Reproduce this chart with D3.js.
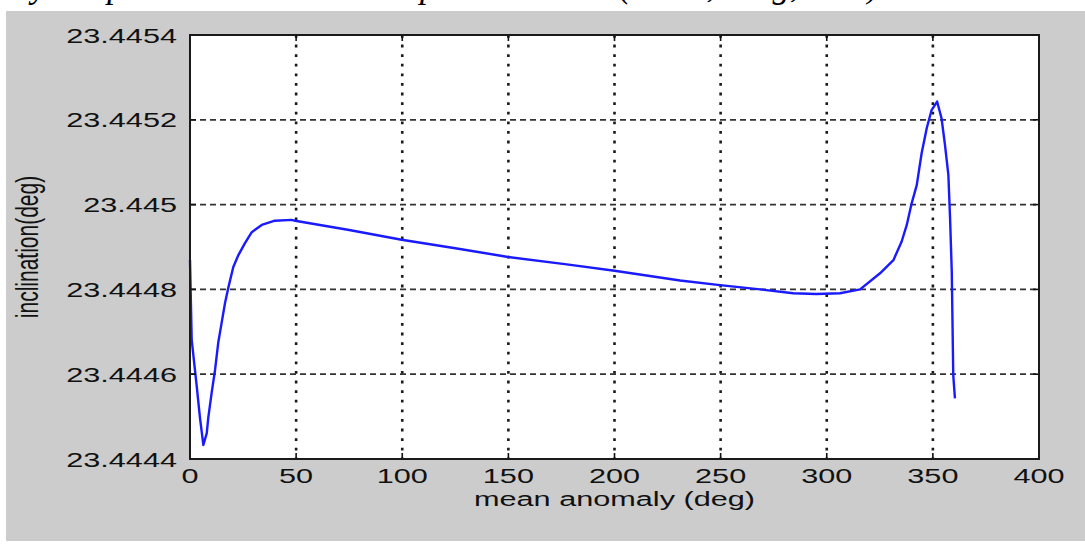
<!DOCTYPE html>
<html>
<head>
<meta charset="utf-8">
<script src="https://cdn.jsdelivr.net/npm/d3@7"></script>
<style>
  html, body { margin: 0; padding: 0; background: #fff; }
  svg { display: block; }
</style>
</head>
<body>
<svg id="chart" width="1085" height="545"></svg>
<script>
// Mean anomaly (deg) and inclination (deg) over one orbit
const anomaly = [0, 0.8, 3.1, 4.7, 6.3, 7.9, 8.6, 10.2, 11.8, 13.3, 14.9, 16.5, 18.0, 20.4, 22.8, 25.9,
  29.1, 33.8, 40.0, 47.9, 49.5, 75, 99.7, 125, 149.2, 177.5, 200, 230.9, 249.7, 268.6, 284.2, 295,
  306.2, 315.7, 325.1, 331.4, 335.3, 337.7, 340.0, 342.4, 344.7, 347.1, 349.4, 352.0, 354.1, 355.7,
  357.3, 358.1, 358.9, 359.6, 360.4];
const inclination = [23.444869, 23.444681, 23.444575, 23.444497, 23.444433, 23.444461, 23.444497,
  23.444556, 23.44461, 23.444674, 23.444721, 23.444768, 23.444803, 23.444853, 23.444881, 23.444909,
  23.444935, 23.444952, 23.444962, 23.444964, 23.444962, 23.44494, 23.444917, 23.444897, 23.444877,
  23.444859, 23.444844, 23.444821, 23.44481, 23.4448, 23.444791, 23.444789, 23.444791, 23.4448,
  23.444838, 23.444869, 23.444913, 23.444952, 23.445003, 23.445046, 23.445121, 23.44518, 23.445223,
  23.445243, 23.445203, 23.445141, 23.44507, 23.444968, 23.444842, 23.444598, 23.444543];

const xTicks = [0, 50, 100, 150, 200, 250, 300, 350, 400];
const yTicks = [23.4444, 23.4446, 23.4448, 23.445, 23.4452, 23.4454];
const yTickLabels = ["23.4444", "23.4446", "23.4448", "23.445", "23.4452", "23.4454"];

const xLabel = "mean anomaly (deg)";
const yLabel = "inclination(deg)";
const captionTail = "ry at ep 500 km and with all perturbations (zonal, drag, SRP).";

const svg = d3.select("#chart");
const W = 1085, H = 545;
const plot = { left: 190, top: 35, right: 1039, bottom: 459 };
const stretch = 1.46;   // wide lettering of the figure
const fontFamily = "Arial, 'Liberation Sans', Helvetica, sans-serif";

// caption line running off the top edge of the page
svg.append("text")
  .attr("x", 18).attr("y", -3)
  .attr("font-family", "'Liberation Serif', 'Times New Roman', serif")
  .attr("font-style", "italic")
  .attr("font-size", 36)
  .attr("textLength", 870)
  .attr("lengthAdjust", "spacingAndGlyphs")
  .attr("fill", "#000")
  .text(captionTail);

// figure background
svg.append("rect")
  .attr("x", 6).attr("y", 11)
  .attr("width", W - 6).attr("height", H - 15)
  .attr("fill", "#cccccc");

const x = d3.scaleLinear().domain([0, 400]).range([plot.left, plot.right]);
const y = d3.scaleLinear().domain([23.4444, 23.4454]).range([plot.bottom, plot.top]);

// plot area
svg.append("rect")
  .attr("x", plot.left).attr("y", plot.top)
  .attr("width", plot.right - plot.left).attr("height", plot.bottom - plot.top)
  .attr("fill", "#fff");

// grid
const grid = svg.append("g");
grid.selectAll("line.gx")
  .data(xTicks.filter(d => d > 0 && d < 400))
  .join("line")
  .attr("class", "gx")
  .attr("x1", d => x(d)).attr("x2", d => x(d))
  .attr("y1", plot.top).attr("y2", plot.bottom)
  .attr("stroke", "#1a1a1a").attr("stroke-width", 2.6)
  .attr("stroke-dasharray", "2.8,6.8");
grid.selectAll("line.gy")
  .data(yTicks.filter(d => d > 23.4444 && d < 23.4454))
  .join("line")
  .attr("class", "gy")
  .attr("x1", plot.left).attr("x2", plot.right)
  .attr("y1", d => y(d)).attr("y2", d => y(d))
  .attr("stroke", "#333").attr("stroke-width", 1.8)
  .attr("stroke-dasharray", "6,4");

// curve
const line = d3.line()
  .x((d, i) => x(anomaly[i]))
  .y(d => y(d));
svg.append("path")
  .datum(inclination)
  .attr("d", line)
  .attr("fill", "none")
  .attr("stroke", "#1a1aff")
  .attr("stroke-width", 2.4)
  .attr("stroke-linejoin", "round");

// inward ticks on all four sides
const tickLen = 6;
const ticks = svg.append("g").attr("stroke", "#111").attr("stroke-width", 1.6);
xTicks.forEach(d => {
  ticks.append("line").attr("x1", x(d)).attr("x2", x(d)).attr("y1", plot.bottom).attr("y2", plot.bottom - tickLen);
  ticks.append("line").attr("x1", x(d)).attr("x2", x(d)).attr("y1", plot.top).attr("y2", plot.top + tickLen);
});
yTicks.forEach(d => {
  ticks.append("line").attr("x1", plot.left).attr("x2", plot.left + tickLen).attr("y1", y(d)).attr("y2", y(d));
  ticks.append("line").attr("x1", plot.right).attr("x2", plot.right - tickLen).attr("y1", y(d)).attr("y2", y(d));
});

// box
svg.append("rect")
  .attr("x", plot.left).attr("y", plot.top)
  .attr("width", plot.right - plot.left).attr("height", plot.bottom - plot.top)
  .attr("fill", "none")
  .attr("stroke", "#1a1a1a").attr("stroke-width", 2);

// tick labels
svg.append("g").selectAll("text")
  .data(xTicks)
  .join("text")
  .attr("transform", d => `translate(${x(d)},483) scale(${stretch},1)`)
  .attr("text-anchor", "middle")
  .attr("font-family", fontFamily).attr("font-size", 21)
  .attr("fill", "#111")
  .text(d => d);

svg.append("g").selectAll("text")
  .data(yTicks)
  .join("text")
  .attr("transform", d => `translate(177,${y(d) + 7.5}) scale(${stretch},1)`)
  .attr("text-anchor", "end")
  .attr("font-family", fontFamily).attr("font-size", 21)
  .attr("fill", "#111")
  .text((d, i) => yTickLabels[i]);

// axis titles
svg.append("text")
  .attr("transform", `translate(${(plot.left + plot.right) / 2},506) scale(${stretch},1)`)
  .attr("text-anchor", "middle")
  .attr("font-family", fontFamily).attr("font-size", 21)
  .attr("fill", "#111")
  .text(xLabel);

svg.append("text")
  .attr("transform", `translate(38,${(plot.top + plot.bottom) / 2}) scale(${stretch},1) rotate(-90)`)
  .attr("text-anchor", "middle")
  .attr("font-family", fontFamily).attr("font-size", 21)
  .attr("fill", "#111")
  .text(yLabel);
</script>
</body>
</html>
